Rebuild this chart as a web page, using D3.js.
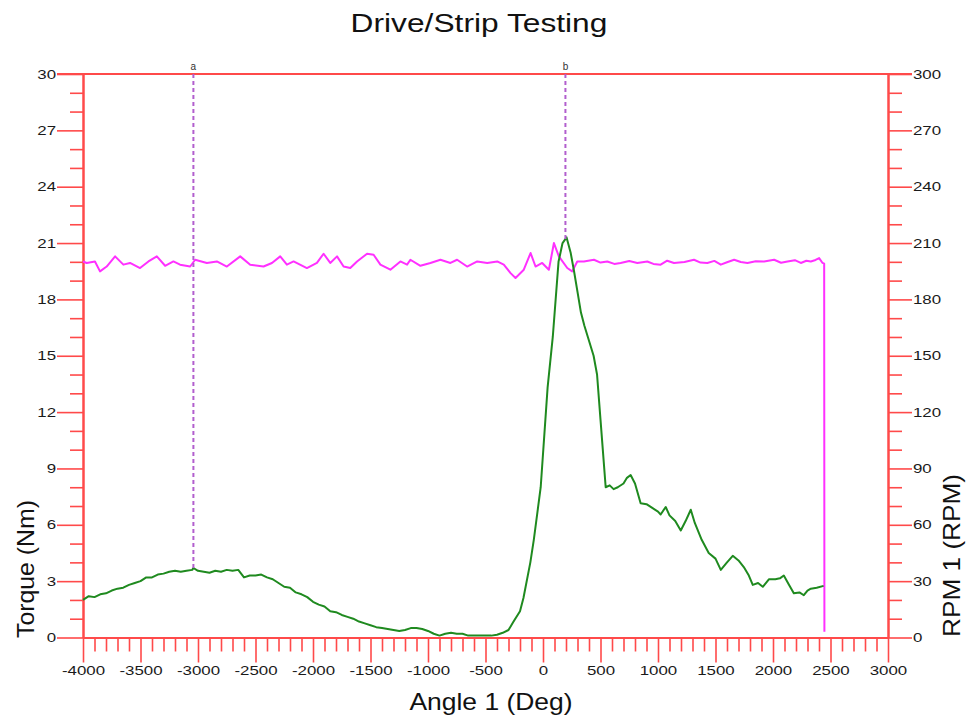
<!DOCTYPE html>
<html>
<head>
<meta charset="utf-8">
<script src="https://cdn.jsdelivr.net/npm/d3@7"></script>
<style>
  html, body { margin: 0; padding: 0; background: #fff; }
  svg { display: block; }
</style>
</head>
<body>
<script>
// ---------------- DATA ----------------
const chartTitle = "Drive/Strip Testing";
const xLabel = "Angle 1 (Deg)";
const yLeftLabel = "Torque (Nm)";
const yRightLabel = "RPM 1 (RPM)";

const angleTicks = [-4000, -3500, -3000, -2500, -2000, -1500, -1000, -500, 0, 500, 1000, 1500, 2000, 2500, 3000];
const torqueTicks = [0, 3, 6, 9, 12, 15, 18, 21, 24, 27, 30];
const rpmTicks = [0, 30, 60, 90, 120, 150, 180, 210, 240, 270, 300];

// Torque (green) series
const torqueAngle = [
  -4000, -3950, -3900, -3850, -3800, -3750, -3700, -3650, -3600, -3550,
  -3500, -3450, -3400, -3350, -3300, -3250, -3200, -3150, -3100, -3050,
  -3040, -3000, -2950, -2900, -2850, -2800, -2750, -2700, -2650, -2600,
  -2550, -2500, -2450, -2400, -2350, -2300, -2250, -2200, -2150, -2100,
  -2050, -2000, -1950, -1900, -1850, -1800, -1750, -1700, -1650, -1600,
  -1550, -1500, -1450, -1400, -1350, -1300, -1250, -1200, -1150, -1100,
  -1050, -1000, -950, -900, -850, -800, -750, -700, -650, -600,
  -550, -500, -450, -400, -350, -300, -256, -200, -170, -110,
  -80, -20, 40, 85, 135, 170, 205, 240, 270, 300,
  330, 360, 410, 440, 470, 500, 520, 545, 580, 614,
  650, 700, 730, 762, 800, 849, 900, 950, 1000, 1023,
  1067, 1100, 1150, 1198, 1240, 1285, 1320, 1380, 1441, 1500,
  1546, 1600, 1650, 1700, 1746, 1790, 1824, 1870, 1911, 1964,
  2020, 2060, 2094, 2140, 2181, 2230, 2268, 2300, 2329, 2380, 2440
];
const torqueValue = [
  2.0, 2.2, 2.15, 2.3, 2.35, 2.5, 2.6, 2.65, 2.8, 2.9,
  3.0, 3.2, 3.2, 3.35, 3.4, 3.5, 3.55, 3.5, 3.55, 3.6,
  3.7, 3.55, 3.5, 3.45, 3.55, 3.5, 3.6, 3.55, 3.6, 3.2,
  3.3, 3.3, 3.35, 3.2, 3.1, 2.9, 2.7, 2.65, 2.4, 2.3,
  2.15, 1.9, 1.75, 1.65, 1.4, 1.35, 1.2, 1.1, 1.0, 0.85,
  0.75, 0.65, 0.55, 0.5, 0.45, 0.4, 0.35, 0.4, 0.5, 0.5,
  0.45, 0.35, 0.2, 0.1, 0.2, 0.25, 0.2, 0.2, 0.1, 0.1,
  0.1, 0.1, 0.1, 0.15, 0.25, 0.4, 0.85, 1.4, 2.1, 4.0,
  5.2, 8.0, 13.3, 16.0, 20.0, 21.0, 21.3, 20.5, 19.5, 18.4,
  17.3, 16.6, 15.6, 15.0, 14.0, 11.6, 10.0, 8.0, 8.1, 7.9,
  8.0, 8.2, 8.5, 8.65, 8.2, 7.15, 7.1, 6.9, 6.7, 6.55,
  6.95, 6.5, 6.2, 5.7, 6.2, 6.8, 6.1, 5.2, 4.5, 4.2,
  3.6, 4.0, 4.35, 4.1, 3.75, 3.3, 2.8, 2.9, 2.7, 3.1,
  3.1, 3.15, 3.3, 2.8, 2.35, 2.4, 2.25, 2.5, 2.6, 2.65, 2.75
];

// RPM (magenta) series
const rpmAngle = [
  -4000, -3968, -3896, -3852, -3794, -3721, -3649, -3591, -3504, -3431,
  -3358, -3286, -3214, -3156, -3068, -3025, -2923, -2836, -2749, -2633,
  -2546, -2430, -2357, -2285, -2227, -2169, -2053, -1966, -1908, -1850,
  -1791, -1734, -1676, -1617, -1530, -1473, -1414, -1327, -1240, -1182,
  -1153, -1066, -979, -892, -805, -747, -660, -572, -485, -398,
  -341, -282, -239, -167, -108, -65, -7, 51, 95, 138,
  211, 254, 298, 356, 443, 500, 559, 620, 675, 750,
  820, 907, 960, 1023, 1080, 1139, 1230, 1313, 1370, 1429,
  1490, 1546, 1600, 1662, 1720, 1778, 1850, 1923, 2010, 2070,
  2126, 2190, 2242, 2290, 2329, 2370, 2401, 2431, 2445, 2447
];
const rpmValue = [
  200.2, 199.4, 200.2, 194.9, 197.5, 202.9, 198.5, 199.4, 196.7, 200.2,
  202.9, 197.9, 200.2, 198.5, 197.5, 201.1, 199.4, 200.2, 197.5, 202.9,
  198.5, 197.5, 199.4, 202.9, 198.5, 200.2, 196.7, 199.4, 204.3, 199.4,
  202.9, 197.5, 196.7, 200.2, 204.3, 203.8, 198.5, 195.8, 200.2, 198.5,
  201.1, 197.9, 199.4, 201.1, 199.4, 201.1, 197.5, 200.2, 199.4, 200.2,
  198.5, 194.0, 191.4, 195.8, 204.7, 197.5, 199.4, 195.8, 210.0, 202.9,
  196.7, 194.9, 200.2, 200.2, 201.1, 199.6, 200.2, 198.9, 199.4, 200.4,
  199.4, 200.2, 198.9, 198.5, 200.6, 199.4, 199.9, 201.1, 199.6, 199.4,
  200.5, 198.5, 199.8, 201.1, 199.9, 199.4, 200.3, 200.2, 201.1, 199.5,
  200.2, 200.9, 199.4, 200.6, 200.2, 201.0, 202.0, 199.4, 199.0, 3.0
];

// Cursors
const cursorNames = ["a", "b"];
const cursorAngles = [-3040, 195];
const cursorTorque = [3.65, 21.2];

// ---------------- DRAW ----------------
const W = 968, H = 719;
const FONT = "'Liberation Sans', Arial, Helvetica, sans-serif";
const AXC = "#ff4a4a";
const TICK_SX = 1.35;

const svg = d3.select("body").append("svg").attr("width", W).attr("height", H);
svg.append("rect").attr("width", W).attr("height", H).attr("fill", "#fff");

const x = d3.scaleLinear().domain([-4000, 3000]).range([83, 888]);
const yL = d3.scaleLinear().domain([0, 30]).range([637.5, 74]);
const yR = d3.scaleLinear().domain([0, 300]).range([637.5, 74]);

const [x0, x1] = x.range();
const [yB, yT] = yL.range();

function styleAxis(g) {
  g.selectAll("path.domain").attr("stroke", AXC).attr("stroke-width", 2);
  g.selectAll(".tick line").attr("stroke", AXC).attr("stroke-width", 1.6);
  g.selectAll("text").attr("fill", "#1a1a1a").style("font-family", FONT).style("font-size", "12.5px");
}

// top frame line (extends like the 30/300 major ticks)
svg.append("line").attr("x1", x0 - 26).attr("x2", x1 + 24).attr("y1", yT).attr("y2", yT)
  .attr("stroke", AXC).attr("stroke-width", 2);

// Left minor ticks
const gLm = svg.append("g").attr("transform", `translate(${x0},0)`)
  .call(d3.axisLeft(yL).tickValues(d3.range(0, 31).filter(v => v % 3 !== 0)).tickSize(13).tickSizeOuter(0).tickFormat(() => ""));
styleAxis(gLm);
// Left major
const gL = svg.append("g").attr("transform", `translate(${x0},0)`)
  .call(d3.axisLeft(yL).tickValues(torqueTicks).tickSize(26).tickSizeOuter(0).tickPadding(1).tickFormat(d => String(d)));
styleAxis(gL);
gL.selectAll("text").attr("x", -27 / TICK_SX).attr("transform", `scale(${TICK_SX},1)`);

// Right minor ticks
const gRm = svg.append("g").attr("transform", `translate(${x1},0)`)
  .call(d3.axisRight(yR).tickValues(d3.range(0, 301, 10).filter(v => v % 30 !== 0)).tickSize(14).tickSizeOuter(0).tickFormat(() => ""));
styleAxis(gRm);
// Right major
const gR = svg.append("g").attr("transform", `translate(${x1},0)`)
  .call(d3.axisRight(yR).tickValues(rpmTicks).tickSize(24).tickSizeOuter(0).tickPadding(1).tickFormat(d => String(d)));
styleAxis(gR);
gR.selectAll("text").attr("x", 25 / TICK_SX).attr("transform", `scale(${TICK_SX},1)`);

// Bottom minor ticks
const gBm = svg.append("g").attr("transform", `translate(0,${yB})`)
  .call(d3.axisBottom(x).tickValues(d3.range(-4000, 3001, 100).filter(v => v % 500 !== 0)).tickSize(14).tickSizeOuter(0).tickFormat(() => ""));
styleAxis(gBm);
// Bottom major
const gB = svg.append("g").attr("transform", `translate(0,${yB})`)
  .call(d3.axisBottom(x).tickValues(angleTicks).tickSize(25).tickSizeOuter(0).tickFormat(d => String(d)));
styleAxis(gB);
gB.selectAll("text").attr("y", 37.5).attr("dy", "0").attr("transform", `scale(${TICK_SX},1)`);

// Series
const rpmData = rpmAngle.map((a, i) => [a, rpmValue[i]]);
const torqueData = torqueAngle.map((a, i) => [a, torqueValue[i]]);

svg.append("path").datum(rpmData)
  .attr("fill", "none").attr("stroke", "#ff30ff").attr("stroke-width", 2).attr("stroke-linejoin", "round")
  .attr("d", d3.line().x(d => x(d[0])).y(d => yR(d[1])));

svg.append("path").datum(torqueData)
  .attr("fill", "none").attr("stroke", "#1f8a1f").attr("stroke-width", 2).attr("stroke-linejoin", "round")
  .attr("d", d3.line().x(d => x(d[0])).y(d => yL(d[1])));

// Cursors
cursorNames.forEach((n, i) => {
  const cx = x(cursorAngles[i]);
  svg.append("line").attr("x1", cx).attr("x2", cx).attr("y1", yT).attr("y2", yL(cursorTorque[i]))
    .attr("stroke", "#b25fce").attr("stroke-width", 2).attr("stroke-dasharray", "4,3");
  svg.append("text").attr("x", cx).attr("y", yT - 4).attr("text-anchor", "middle")
    .style("font-family", FONT).style("font-size", "10px").attr("fill", "#333").text(n);
});

// Title
svg.append("text").attr("transform", `translate(479,32) scale(1.22,1)`).attr("text-anchor", "middle")
  .style("font-family", FONT).style("font-size", "26px").attr("fill", "#111").text(chartTitle);

// X label
svg.append("text").attr("transform", `translate(491,710) scale(1.15,1)`).attr("text-anchor", "middle")
  .style("font-family", FONT).style("font-size", "23px").attr("fill", "#111").text(xLabel);

// Left Y label
svg.append("text").attr("transform", `translate(34,638) rotate(-90) scale(1.08,1)`).attr("text-anchor", "start")
  .style("font-family", FONT).style("font-size", "23px").attr("fill", "#111").text(yLeftLabel);

// Right Y label
svg.append("text").attr("transform", `translate(960,637) rotate(-90) scale(1.14,1)`).attr("text-anchor", "start")
  .style("font-family", FONT).style("font-size", "23px").attr("fill", "#111").text(yRightLabel);
</script>
</body>
</html>
